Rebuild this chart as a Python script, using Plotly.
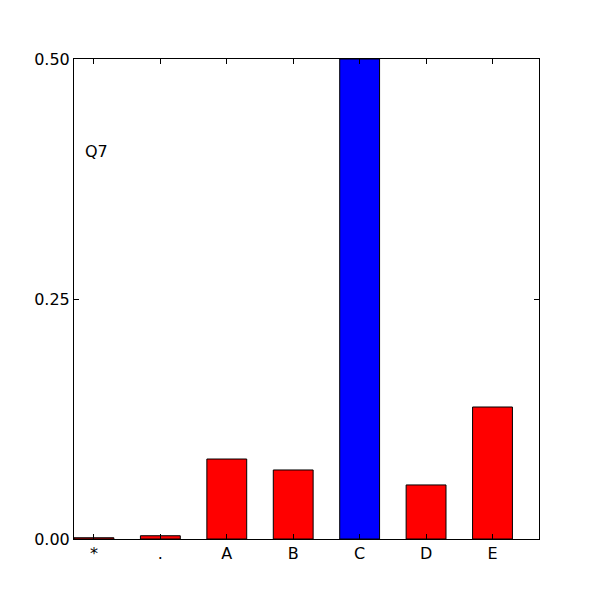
import plotly.graph_objects as go

categories = ["*", ".", "A", "B", "C", "D", "E"]
values = [0.0013, 0.0034, 0.0833, 0.0719, 0.5, 0.0563, 0.1375]
colors = ["red", "red", "red", "red", "blue", "red", "red"]
y_ticks = [0.0, 0.25, 0.5]
y_tick_labels = ["0.00", "0.25", "0.50"]
label = "Q7"

xs = list(range(len(categories)))

fig = go.Figure(go.Bar(
    x=xs, y=values, width=0.6,
    marker=dict(color=colors, line=dict(color="black", width=1)),
    cliponaxis=True,
))
fig.add_annotation(x=-0.17, y=0.404, text=label, showarrow=False,
                   xanchor="left", yanchor="middle",
                   font=dict(size=16, color="black"))
axis_common = dict(showline=True, linecolor="black", linewidth=1, mirror="ticks",
                   ticks="inside", ticklen=5, tickcolor="black", showgrid=False,
                   zeroline=False, tickfont=dict(size=16, color="black"))
fig.update_xaxes(range=[-0.3, 6.7], tickvals=xs, ticktext=categories, **axis_common)
fig.update_yaxes(range=[0, 0.5], tickvals=y_ticks, ticktext=y_tick_labels, **axis_common)
fig.update_layout(
    width=600, height=600, showlegend=False,
    margin=dict(l=66, r=69, t=51, b=69),
    plot_bgcolor="white", paper_bgcolor="white",
    font=dict(family="DejaVu Sans", size=16, color="black"),
)
fig.write_html("out.html")
